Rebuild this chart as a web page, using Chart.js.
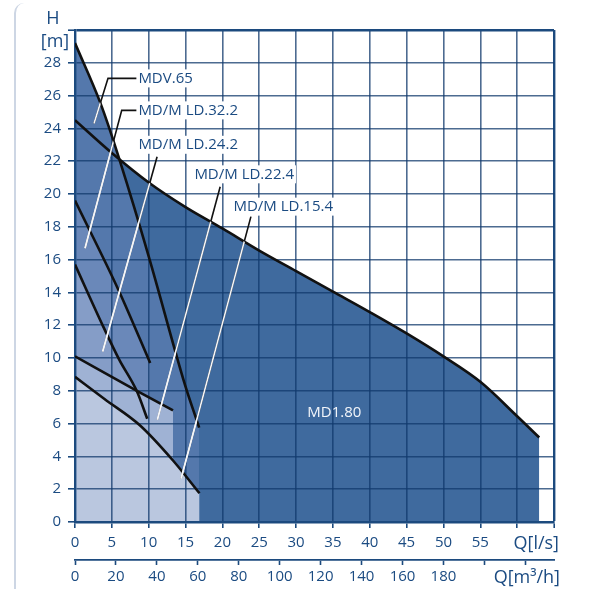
<!DOCTYPE html>
<html>
<head>
<meta charset="utf-8">
<title>Pump curves</title>
<script src="https://cdn.jsdelivr.net/npm/chart.js"></script>
<style>
  html, body { margin: 0; padding: 0; background: #fff; }
  #wrap { position: relative; width: 591px; height: 589px; overflow: hidden; }
  #card { position: absolute; left: 14px; top: 3px; width: 60px; height: 640px; border-left: 2px solid #cdd6e4; border-top-left-radius: 10px; }
  canvas { position: absolute; left: 0; top: 0; }
</style>
</head>
<body>
<div id="wrap">
  <div id="card"></div>
  <canvas id="pumpChart" width="591" height="589"></canvas>
</div>
<script>
// curve data, Q in l/s, H in m
const md180Q = [0, 5, 10, 15, 20, 25, 30, 35, 40, 45, 50, 55, 60, 63];
const md180H = [24.5, 22.5, 20.7, 19.2, 17.9, 16.55, 15.3, 14.05, 12.8, 11.5, 10.1, 8.55, 6.45, 5.15];
const mdv65Q = [0, 3.4, 6.1, 10, 14.7, 16.85];
const mdv65H = [29.2, 25.6, 22.0, 16.2, 8.7, 5.75];
const ld322Q = [0, 5.9, 10.2];
const ld322H = [19.6, 14.15, 9.7];
const ld242Q = [0, 3.85, 6.0, 8.4, 9.8];
const ld242H = [15.7, 11.9, 9.9, 7.97, 6.3];
const ld224Q = [0, 8.4, 13.3];
const ld224H = [10.1, 8.0, 6.8];
const ld154Q = [0, 4, 8.8, 13.3, 16.9];
const ld154H = [8.85, 7.5, 5.9, 3.75, 1.75];

// axis ticks
const qTicks = [0, 5, 10, 15, 20, 25, 30, 35, 40, 45, 50, 55];
const hTicks = [0, 2, 4, 6, 8, 10, 12, 14, 16, 18, 20, 22, 24, 26, 28];
const m3hTicks = [0, 20, 40, 60, 80, 100, 120, 140, 160, 180, 200, 220];
const m3hLabels = ['0', '20', '40', '60', '80', '100', '120', '140', '160', '180', '', ''];

// labels and their leader lines (Q, H)
const labelNames = ['MDV.65', 'MD/M LD.32.2', 'MD/M LD.24.2', 'MD/M LD.22.4', 'MD/M LD.15.4'];
const labelQ = [8.6, 8.6, 8.6, 16.2, 21.5];
const labelH = [27.05, 25.1, 23.0, 21.2, 19.23];
const leaders = [
  [[8.5, 27.05], [4.48, 27.05], [2.58, 24.3]],
  [[8.5, 25.1], [6.34, 25.1], [1.36, 16.69]],
  [[11.14, 22.27], [3.76, 10.4]],
  [[19.7, 20.44], [11.18, 6.24]],
  [[23.87, 18.62], [14.4, 2.65]]
];

const navy = '#1b4b82';
const frame = '#1c4a7e';
const gridCol = 'rgba(18, 58, 108, 0.75)';

const pts = (q, h) => q.map((v, i) => ({ x: v, y: h[i] }));
const curve = (label, q, h, fillCol, smooth) => ({
  label: label,
  data: pts(q, h),
  borderColor: '#111',
  borderWidth: 2.6,
  backgroundColor: fillCol,
  fill: 'origin',
  pointRadius: 0,
  tension: smooth ? 0.35 : 0,
  cubicInterpolationMode: smooth ? 'default' : 'monotone'
});

const overlay = {
  id: 'overlay',
  afterDatasetsDraw(chart) {
    const ctx = chart.ctx;
    const xs = chart.scales.x, ys = chart.scales.y;
    const area = chart.chartArea;
    const px = p => [xs.getPixelForValue(p[0]), ys.getPixelForValue(p[1])];
    const y0 = ys.getPixelForValue(0);

    const linePath = (line) => {
      ctx.beginPath();
      line.forEach((p, i) => {
        const [a, b] = px(p);
        if (i === 0) ctx.moveTo(a, b); else ctx.lineTo(a, b);
      });
    };

    // leaders: black over white, white over filled areas
    ctx.save();
    ctx.lineWidth = 1.6;
    ctx.strokeStyle = '#111';
    leaders.forEach(l => { linePath(l); ctx.stroke(); });
    [4, 5].forEach(di => {
      const d = chart.getDatasetMeta(di).data;
      ctx.save();
      ctx.beginPath();
      d.forEach((e, i) => { if (i === 0) ctx.moveTo(e.x, e.y); else ctx.lineTo(e.x, e.y); });
      ctx.lineTo(d[d.length - 1].x, y0);
      ctx.lineTo(d[0].x, y0);
      ctx.closePath();
      ctx.clip();
      ctx.strokeStyle = '#f4f6fa';
      leaders.forEach(l => { linePath(l); ctx.stroke(); });
      ctx.restore();
    });
    ctx.restore();

    // pump labels
    ctx.save();
    ctx.font = '15px "Open Sans"';
    ctx.textBaseline = 'middle';
    ctx.textAlign = 'left';
    labelNames.forEach((t, i) => {
      const [a, b] = px([labelQ[i], labelH[i]]);
      const w = ctx.measureText(t).width;
      ctx.fillStyle = '#fff';
      ctx.fillRect(a - 2, b - 9, w + 4, 18);
      ctx.fillStyle = navy;
      ctx.fillText(t, a, b);
    });
    ctx.fillStyle = '#f2f5fa';
    ctx.textAlign = 'center';
    const [mx, my] = px([35.2, 6.65]);
    ctx.fillText('MD1.80', mx, my);

    // axis titles
    ctx.fillStyle = navy;
    ctx.font = '18px "Open Sans"';
    ctx.textAlign = 'center';
    ctx.fillText('H', area.left - 22, area.top - 11);
    ctx.fillText('[m]', area.left - 20, area.top + 12);
    ctx.textAlign = 'right';
    ctx.fillText('Q[l/s]', area.right + 5, area.bottom + 22);
    ctx.fillText('Q[m\u00b3/h]', area.right + 6, area.bottom + 56);
    ctx.restore();
  }
};

new Chart(document.getElementById('pumpChart'), {
  type: 'line',
  data: {
    datasets: [
      curve('MD/M LD.15.4', ld154Q, ld154H, '#bac7df', false),
      curve('MD/M LD.22.4', ld224Q, ld224H, '#9fb2d4', false),
      curve('MD/M LD.24.2', ld242Q, ld242H, '#859dc7', false),
      curve('MD/M LD.32.2', ld322Q, ld322H, '#6a88b9', false),
      curve('MDV.65', mdv65Q, mdv65H, '#5478ac', true),
      curve('MD1.80', md180Q, md180H, '#3f6a9e', true)
    ]
  },
  options: {
    responsive: false,
    animation: false,
    layout: { padding: { top: 30, right: 37, left: 0, bottom: 0 } },
    plugins: {
      legend: { display: false },
      tooltip: { enabled: false },
      filler: { drawTime: 'beforeDraw' }
    },
    scales: {
      x: {
        type: 'linear', position: 'bottom', min: 0, max: 65,
        afterBuildTicks: s => { s.ticks = qTicks.concat([60, 65]).map(v => ({ value: v })); },
        afterFit: s => { s.height = 38; },
        ticks: {
          color: navy, padding: 6,
          font: { family: '"Open Sans"', size: 15 },
          maxRotation: 0, autoSkip: false,
          callback: v => (qTicks.includes(v) ? v : '')
        },
        grid: {
          color: c => (c.tick && c.tick.value === 65 ? frame : gridCol),
          lineWidth: c => (c.tick && c.tick.value === 65 ? 2.4 : 1.6),
          tickLength: 6, tickColor: frame, tickWidth: 1.6
        },
        border: { color: frame, width: 2.4 }
      },
      x2: {
        type: 'linear', position: 'bottom', min: 0, max: 65 * 3.6,
        afterBuildTicks: s => { s.ticks = m3hTicks.map(v => ({ value: v })); },
        afterFit: s => { s.height = 29; },
        ticks: {
          color: navy, padding: 3,
          font: { family: '"Open Sans"', size: 15 },
          maxRotation: 0, autoSkip: false,
          callback: (v, i) => m3hLabels[i]
        },
        grid: { drawOnChartArea: false, tickLength: 5, tickColor: frame, tickWidth: 1.6 },
        border: { color: frame, width: 1.8 }
      },
      y: {
        type: 'linear', position: 'left', min: 0, max: 30,
        afterBuildTicks: s => { s.ticks = hTicks.concat([30]).map(v => ({ value: v })); },
        afterFit: s => { s.width = 75; },
        ticks: {
          color: navy, padding: 7,
          font: { family: '"Open Sans"', size: 15 },
          callback: v => (hTicks.includes(v) ? v : '')
        },
        grid: {
          color: c => (c.tick && c.tick.value === 30 ? frame : gridCol),
          lineWidth: c => (c.tick && c.tick.value === 30 ? 2.4 : 1.6),
          tickLength: 7, tickColor: frame, tickWidth: 1.6
        },
        border: { color: frame, width: 2.4 }
      }
    }
  },
  plugins: [overlay]
});
</script>
</body>
</html>
